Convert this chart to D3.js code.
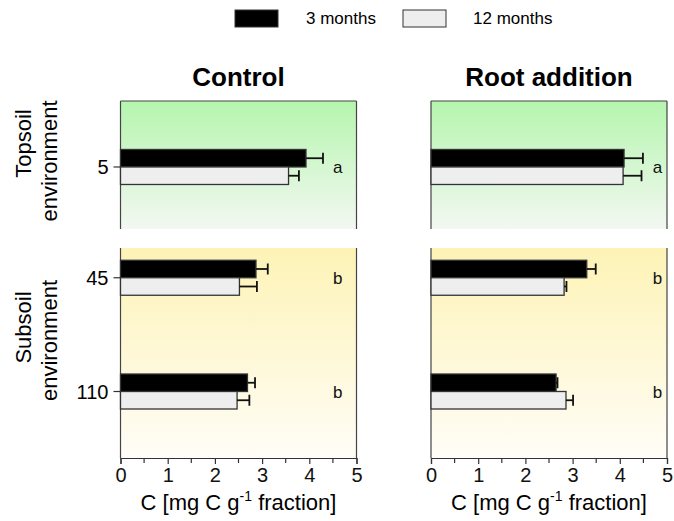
<!DOCTYPE html>
<html>
<head>
<meta charset="utf-8">
<script src="https://cdn.jsdelivr.net/npm/d3@7"></script>
<style>
  body { margin: 0; background: #fff; }
  svg { font-family: "Liberation Sans", Arial, sans-serif; }
</style>
</head>
<body>
<svg id="chart" width="674" height="521"></svg>
<script>
// data (C in mg C per g fraction)
const seriesNames = ["3 months", "12 months"];
const panelTitles = ["Control", "Root addition"];
const depths = [5, 45, 110];
const letters = ["a", "b", "b"];
const xTicks = [0, 1, 2, 3, 4, 5];

const control3 = [3.93, 2.87, 2.69];
const control3Err = [0.36, 0.25, 0.16];
const control12 = [3.56, 2.52, 2.47];
const control12Err = [0.22, 0.37, 0.26];

const root3 = [4.09, 3.30, 2.65];
const root3Err = [0.40, 0.19, 0.03];
const root12 = [4.07, 2.82, 2.86];
const root12Err = [0.39, 0.05, 0.15];

const letterX = [4.6, 4.8];

const svg = d3.select("#chart");
const colors = ["#000000", "#eeeeee"];
const barH = 17.5;

// gradients for the two soil environments
const defs = svg.append("defs");
function grad(id, top, bottom) {
    const g = defs.append("linearGradient").attr("id", id)
        .attr("x1", 0).attr("y1", 0).attr("x2", 0).attr("y2", 1);
    g.append("stop").attr("offset", "0%").attr("stop-color", top);
    g.append("stop").attr("offset", "100%").attr("stop-color", bottom);
}
grad("gTop", "#b5f5ae", "#f3f8f2");
grad("gSub", "#fdf3b6", "#fffdf7");

// legend
const legend = svg.append("g");
[[235, 306], [403, 473]].forEach((p, i) => {
    legend.append("rect").attr("x", p[0]).attr("y", 10).attr("width", 43).attr("height", 17)
        .attr("fill", colors[i]).attr("stroke", "#333").attr("stroke-width", 1);
    legend.append("text").attr("x", p[1]).attr("y", 24).attr("font-size", 17)
        .text(seriesNames[i]);
});

// row layout (top = topsoil, bottom = subsoil)
const rows = [
    { top: 101, bottom: 229, domain: [0, 9.7], idx: [0], fill: "url(#gTop)", topLine: true, axis: false },
    { top: 248, bottom: 458, domain: [28, 148], idx: [1, 2], fill: "url(#gSub)", topLine: false, axis: true }
];
const cols = [
    { left: 120.5, right: 356.5, v3: control3, e3: control3Err, v12: control12, e12: control12Err },
    { left: 431, right: 667, v3: root3, e3: root3Err, v12: root12, e12: root12Err }
];

cols.forEach((col, ci) => {
    const x = d3.scaleLinear().domain([0, 5]).range([col.left, col.right]);

    svg.append("text")
        .attr("x", (col.left + col.right) / 2).attr("y", 86)
        .attr("text-anchor", "middle").attr("font-size", 26).attr("font-weight", "bold")
        .text(panelTitles[ci]);

    rows.forEach(row => {
        const y = d3.scaleLinear().domain(row.domain).range([row.top, row.bottom]);
        const g = svg.append("g");

        g.append("rect").attr("x", col.left).attr("y", row.top)
            .attr("width", col.right - col.left).attr("height", row.bottom - row.top)
            .attr("fill", row.fill);

        // left / right frame lines
        [col.left, col.right].forEach(xx => {
            g.append("line").attr("x1", xx).attr("x2", xx)
                .attr("y1", row.top).attr("y2", row.bottom)
                .attr("stroke", "#444").attr("stroke-width", 1.2);
        });
        if (row.topLine) {
            g.append("line").attr("x1", col.left).attr("x2", col.right)
                .attr("y1", row.top).attr("y2", row.top)
                .attr("stroke", "#444").attr("stroke-width", 1.2);
        }

        row.idx.forEach(i => {
            const cy = y(depths[i]);
            const bars = [
                { v: col.v3[i], e: col.e3[i], y0: cy - barH, c: colors[0] },
                { v: col.v12[i], e: col.e12[i], y0: cy, c: colors[1] }
            ];
            bars.forEach(b => {
                g.append("rect").attr("x", x(0)).attr("y", b.y0)
                    .attr("width", x(b.v) - x(0)).attr("height", barH)
                    .attr("fill", b.c).attr("stroke", "#333").attr("stroke-width", 1.3);
                const my = b.y0 + barH / 2;
                g.append("line").attr("x1", x(b.v)).attr("x2", x(b.v + b.e))
                    .attr("y1", my).attr("y2", my)
                    .attr("stroke", "#111").attr("stroke-width", 1.8);
                g.append("line").attr("x1", x(b.v + b.e)).attr("x2", x(b.v + b.e))
                    .attr("y1", my - 5.5).attr("y2", my + 5.5)
                    .attr("stroke", "#111").attr("stroke-width", 1.8);
            });
            g.append("text").attr("x", x(letterX[ci])).attr("y", cy + 6)
                .attr("text-anchor", "middle").attr("font-size", 17).attr("fill", "#111")
                .text(letters[i]);

            if (ci === 0) {
                g.append("line").attr("x1", col.left - 7).attr("x2", col.left)
                    .attr("y1", cy).attr("y2", cy).attr("stroke", "#333").attr("stroke-width", 1.2);
                g.append("text").attr("x", col.left - 12).attr("y", cy + 7)
                    .attr("text-anchor", "end").attr("font-size", 20)
                    .text(depths[i]);
            }
        });

        if (row.axis) {
            const ax = g.append("g").attr("transform", `translate(0,${row.bottom})`)
                .call(d3.axisBottom(x).tickValues(xTicks).tickSize(6).tickPadding(4).tickFormat(d3.format("d")));
            ax.select(".domain").attr("stroke", "#333").attr("stroke-width", 1.2);
            ax.selectAll(".tick line").attr("stroke", "#333").attr("stroke-width", 1.2);
            ax.selectAll(".tick text").attr("font-size", 20).attr("font-family", "Liberation Sans, Arial, sans-serif").attr("fill", "#111");
            // half-unit minor ticks
            g.selectAll(null).data(d3.range(0.5, 5, 1)).enter().append("line")
                .attr("x1", d => x(d)).attr("x2", d => x(d))
                .attr("y1", row.bottom).attr("y2", row.bottom + 5)
                .attr("stroke", "#333").attr("stroke-width", 1.2);

            const t = g.append("text").attr("x", (col.left + col.right) / 2).attr("y", 510)
                .attr("text-anchor", "middle").attr("font-size", 22);
            t.append("tspan").text("C [mg C g");
            t.append("tspan").attr("font-size", 14).attr("dy", -9).text("-1");
            t.append("tspan").attr("dy", 9).text(" fraction]");
        }
    });
});

// row labels (rotated, one tspan per line, placed as measured)
function rowLabel(lines, centers) {
    lines.forEach((l, i) => {
        svg.append("text")
            .attr("transform", `translate(${[30.5, 57][i]},${centers[i]}) rotate(-90)`)
            .attr("text-anchor", "middle").attr("font-size", 22)
            .text(l);
    });
}
rowLabel(["Topsoil", "environment"], [143.5, 161]);
rowLabel(["Subsoil", "environment"], [327.5, 340.5]);
</script>
</body>
</html>
